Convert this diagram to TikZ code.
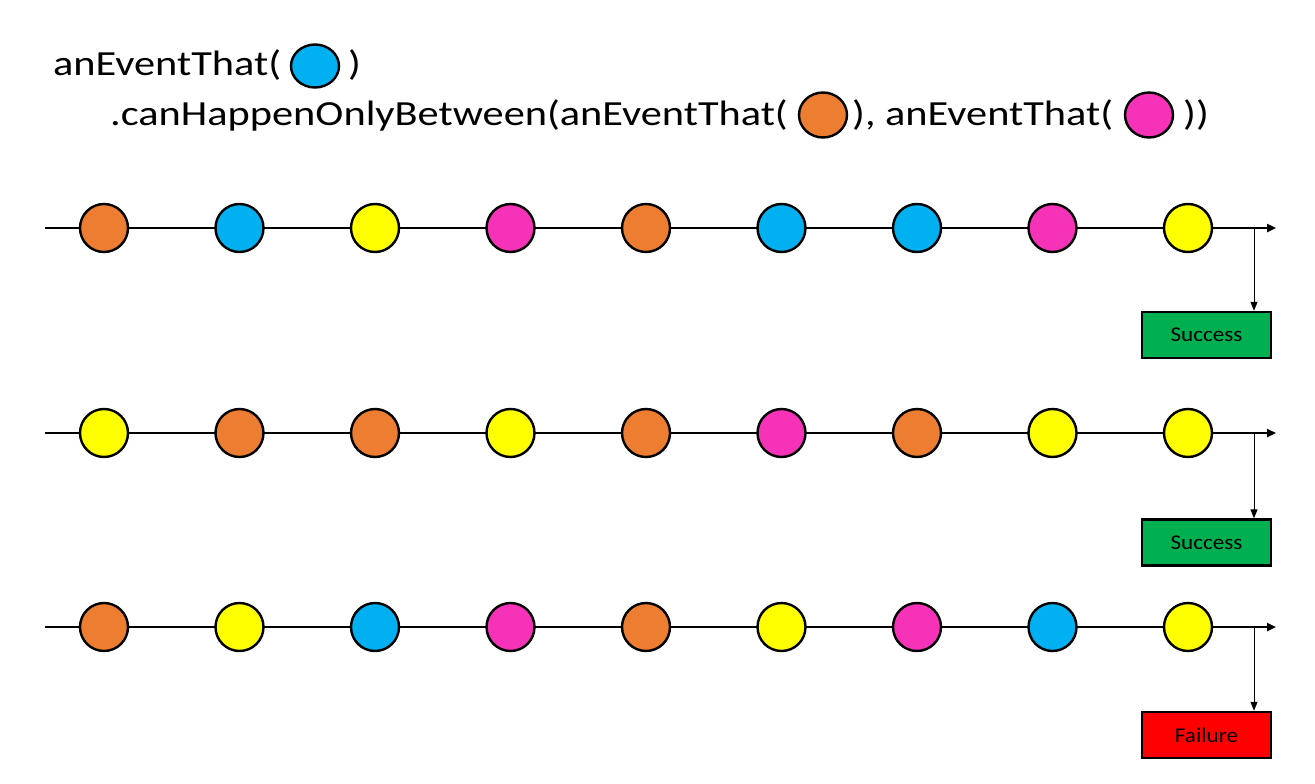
\documentclass[tikz,border=0pt]{standalone}
\usepackage{fontspec}
\setmainfont{Carlito}
\newfontfamily\titlefont[FakeStretch=1.2]{Carlito}
\newfontfamily\boxfont[FakeStretch=1.1]{Carlito}
\usetikzlibrary{arrows.meta,shapes.geometric}
\definecolor{evorange}{HTML}{ED7D31}
\definecolor{evblue}{HTML}{00B0F0}
\definecolor{evyellow}{HTML}{FFFF00}
\definecolor{evpink}{HTML}{F532B8}
\definecolor{okgreen}{HTML}{00B050}
\definecolor{badred}{HTML}{FF0000}
\tikzset{
  ev/.style={circle, draw=black, line width=2.4pt, minimum size=48pt, inner sep=0pt, fill=#1},
  tev/.style={ellipse, draw=black, line width=2.4pt, minimum width=48pt, minimum height=45pt, inner sep=0pt, fill=#1},
  tline/.style={line width=2.6pt, -{Triangle[length=9pt,width=8pt]}},
  vline/.style={line width=1pt, -{Triangle[length=9pt,width=7pt]}},
  result/.style={draw=black, line width=2.4pt, minimum width=129pt, minimum height=46pt, inner sep=0pt, font=\boxfont\fontsize{21}{24}\selectfont, fill=#1},
  ttext/.style={inner sep=0pt, anchor=base west, font=\titlefont\fontsize{35.3}{42}\selectfont}
}
\begin{document}
\begin{tikzpicture}[x=1pt,y=-1pt]
\useasboundingbox (0,0) rectangle (1315,784);
% title
\node[ttext] (t1) at (53,75) {anEventThat(};
\node[tev=evblue, minimum height=43pt] (tb) at (315,66) {};
\node[ttext] (t2) at (348,75) {)};
\node[ttext] (t3) at (110,125) {.canHappenOnlyBetween(anEventThat(};
\node[tev=evorange] (to) at (823,115) {};
\node[ttext] (t4) at (852,125) {), anEventThat(};
\node[tev=evpink] (tp) at (1149,115) {};
\node[ttext] (t5) at (1183,125) {))};
% rows
\foreach \r/\y/\lst in {
  1/228/{evorange,evblue,evyellow,evpink,evorange,evblue,evblue,evpink,evyellow},
  2/433/{evyellow,evorange,evorange,evyellow,evorange,evpink,evorange,evyellow,evyellow},
  3/627/{evorange,evyellow,evblue,evpink,evorange,evyellow,evpink,evblue,evyellow}}{
  \coordinate (s\r) at (45,\y);
  \coordinate (e\r) at (1276,\y);
  \coordinate (d\r) at (1254,\y);
  \draw[tline] (s\r) -- (e\r);
  \foreach \c [count=\i from 0] in \lst {
    \node[ev=\c] (c\r-\i) at ({104+135.5*\i},\y) {};
  }
}
\node[result=okgreen] (r1) at (1206.5,335) {Success};
\node[result=okgreen] (r2) at (1206.5,542.5) {Success};
\node[result=badred] (r3) at (1206.5,735) {Failure};
\draw[vline] (d1) -- (d1 |- r1.north);
\draw[vline] (d2) -- (d2 |- r2.north);
\draw[vline] (d3) -- (d3 |- r3.north);
\end{tikzpicture}
\end{document}
